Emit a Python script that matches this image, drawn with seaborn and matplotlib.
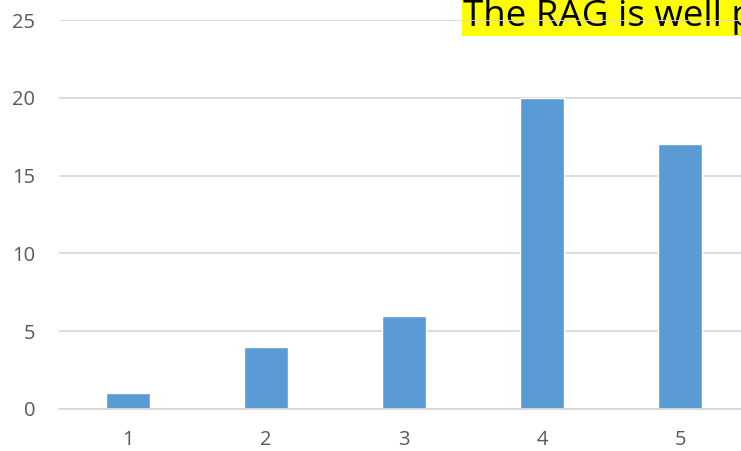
import matplotlib.pyplot as plt
import seaborn as sns
import pandas as pd

categories = ["1", "2", "3", "4", "5"]
values = [1, 4, 6, 20, 17]
y_ticks = [0, 5, 10, 15, 20, 25]
title = "The RAG is well p"

df = pd.DataFrame({"cat": categories, "val": values})

sns.set_style("white")
plt.rcParams['font.family'] = ['Open Sans', 'DejaVu Sans']

fig = plt.figure(figsize=(7.41, 4.51), dpi=100)
ax = fig.add_axes([59 / 741, 42 / 451, 690 / 741, 389 / 451])

sns.barplot(data=df, x="cat", y="val", color="#5B9BD5", width=0.32,
            saturation=1, ax=ax, zorder=2)

ax.set_ylim(0, 25)
ax.set_xlim(-0.5, 4.5)
ax.set_yticks(y_ticks)
ax.set_axisbelow(True)
ax.yaxis.grid(True, color="#D9D9D9", linewidth=1.3)
ax.set_xlabel("")
ax.set_ylabel("")
for side in ["top", "right", "left"]:
    ax.spines[side].set_visible(False)
ax.spines["bottom"].set_color("#D9D9D9")
ax.spines["bottom"].set_linewidth(1.3)
ax.tick_params(axis="both", length=0, labelsize=14.5, colors="#595959")
ax.tick_params(axis="x", pad=15)
ax.tick_params(axis="y", pad=17)

# title sits under the top gridline, like in the original
ax.text(463 / 741, 1 - 26 / 451, title, transform=fig.transFigure,
        fontsize=26.5, color="black", ha="left", va="baseline",
        zorder=0.4, clip_on=False,
        bbox=dict(facecolor="#FFFF00", edgecolor="none", pad=0.5))

fig.savefig("out.png", dpi=100)
